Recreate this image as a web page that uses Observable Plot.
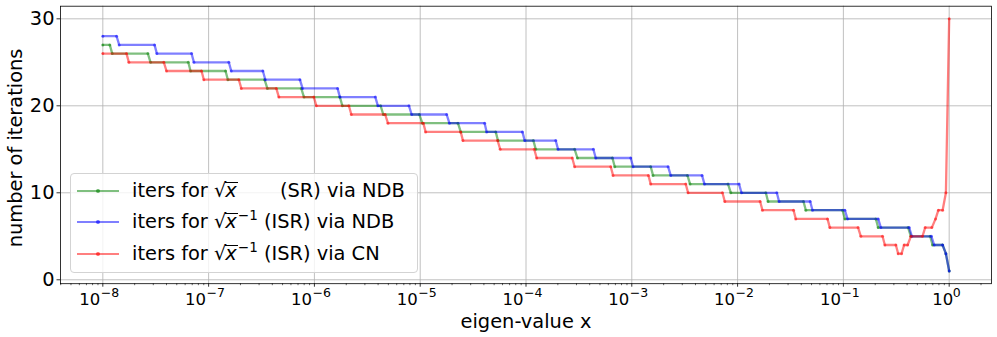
<!DOCTYPE html>
<html><head><meta charset="utf-8">
<script src="https://cdn.jsdelivr.net/npm/d3@7"></script>
<script src="https://cdn.jsdelivr.net/npm/@observablehq/plot@0.6"></script>
<style>
body{margin:0;background:#fff;}
#wrap{position:relative;width:997px;height:337px;font-family:"DejaVu Sans",sans-serif;}
#wrap svg{position:absolute;left:0;top:0;}
#legend{position:absolute;left:70px;top:173px;width:348px;height:100px;border:1px solid #d3d3d3;border-radius:4px;background:rgba(255,255,255,0.8);box-sizing:border-box;}
.sw{position:absolute;left:6px;width:42px;height:2px;}
.dt{position:absolute;left:25px;width:4px;height:4px;border-radius:2px;}
.lbl{position:absolute;left:61px;font-size:19.4px;line-height:19.4px;white-space:pre;color:#000;}
.rad{display:inline-block;border-top:1.3px solid #000;line-height:0.85em;margin-left:-1px;padding-right:1px;}
.sup{font-size:13.5px;position:relative;top:-8px;}
</style>
</head><body>
<div id="wrap"></div>
<script>
// ---- data (x given as log10 exponent of eigen-value, value = number of iterations) ----
// each step: [startExponent, endExponent, iterations]
const srNdbSteps = [
  [-8.000,-7.934,27],[-7.911,-7.574,26],[-7.549,-7.192,25],[-7.171,-6.840,24],
  [-6.818,-6.471,23],[-6.445,-6.124,22],[-6.099,-5.759,21],[-5.736,-5.374,20],
  [-5.349,-5.008,19],[-4.980,-4.643,18],[-4.617,-4.286,17],[-4.265,-3.930,16],
  [-3.908,-3.540,15],[-3.514,-3.183,14],[-3.161,-2.821,13],[-2.799,-2.474,12],
  [-2.449,-2.090,11],[-2.064,-1.733,10],[-1.712,-1.377,9],[-1.355,-1.008,8],
  [-0.986,-0.693,7],[-0.671,-0.388,6],[-0.362,-0.180,5],[-0.157,-0.062,4],
  [-0.031,-0.031,3],[0,0,1]
];
const isrNdbSteps = [
  [-8.000,-7.870,28],[-7.845,-7.511,27],[-7.489,-7.161,26],[-7.139,-6.809,25],
  [-6.786,-6.487,24],[-6.464,-6.137,23],[-6.112,-5.781,22],[-5.759,-5.424,21],
  [-5.400,-5.106,20],[-5.081,-4.750,19],[-4.724,-4.391,18],[-4.372,-4.034,17],
  [-4.012,-3.719,16],[-3.697,-3.363,15],[-3.341,-3.010,14],[-2.988,-2.657,13],
  [-2.632,-2.336,12],[-2.313,-1.986,11],[-1.963,-1.629,10],[-1.608,-1.314,9],
  [-1.292,-0.986,8],[-0.961,-0.671,7],[-0.646,-0.378,6],[-0.353,-0.168,5],
  [-0.142,-0.062,4],[-0.031,-0.031,3],[0,0,1]
];
const isrCnSteps = [
  [-8.000,-7.776,26],[-7.754,-7.423,25],[-7.398,-7.067,24],[-7.045,-6.714,23],
  [-6.691,-6.360,22],[-6.336,-6.005,21],[-5.982,-5.674,20],[-5.651,-5.331,19],
  [-5.305,-4.970,18],[-4.949,-4.617,17],[-4.596,-4.268,16],[-4.244,-3.922,15],
  [-3.899,-3.563,14],[-3.540,-3.199,13],[-3.177,-2.843,12],[-2.821,-2.490,11],
  [-2.468,-2.143,10],[-2.121,-1.787,9],[-1.765,-1.471,8],[-1.450,-1.150,7],
  [-1.128,-0.861,6],[-0.835,-0.630,5],[-0.608,-0.504,4],[-0.482,-0.450,3],
  [-0.426,-0.393,4],[-0.362,-0.252,5],[-0.227,-0.164,6],[-0.129,-0.129,7],
  [-0.102,-0.062,8],[-0.031,-0.031,10],[0,0,30]
];
const seriesNames = ["SR via NDB","ISR via NDB","ISR via CN"];
const seriesColors = ["#008000","#0000ff","#ff0000"];
const xTickExponents = [-8,-7,-6,-5,-4,-3,-2,-1,0];
const yTickValues = [0,10,20,30];
const xLabel = "eigen-value x";
const yLabel = "number of iterations";

function toPoints(steps){
  const pts=[];
  for(const [a,b,l] of steps){
    pts.push({x:10**a,y:l});
    if(b!==a) pts.push({x:10**b,y:l});
  }
  return pts;
}
const allSteps=[srNdbSteps,isrNdbSteps,isrCnSteps];
const negTicks = xTickExponents.filter(e=>e<0).map(e=>10**e);
const zeroTicks = xTickExponents.filter(e=>e===0).map(e=>10**e);
const majorTicks = xTickExponents.map(e=>10**e);
const minorTicks=[];
for(let k=-9;k<=0;k++) for(let m=2;m<=9;m++){const v=m*10**k; if(v>10**-8.4 && v<10**0.4) minorTicks.push(v);}
const supText = d => {const e=Math.round(Math.log10(d)); return e<0 ? "\u2212"+(-e) : String(e);};

const marks=[
  Plot.gridX(majorTicks,{stroke:"#b0b0b0",strokeOpacity:1,strokeWidth:0.8}),
  Plot.gridY(yTickValues,{stroke:"#b0b0b0",strokeOpacity:1,strokeWidth:0.8}),
];
allSteps.forEach((s,i)=>{
  const pts=toPoints(s);
  marks.push(Plot.line(pts,{x:"x",y:"y",stroke:seriesColors[i],strokeOpacity:0.5,strokeWidth:2.3}));
  marks.push(Plot.dot(pts,{x:"x",y:"y",r:1.5,fill:seriesColors[i],fillOpacity:0.5,stroke:null}));
});
const tl = {frameAnchor:"bottom",lineAnchor:"bottom",textAnchor:"start",fill:"#000"};
marks.push(
  Plot.frame({stroke:"#000",strokeWidth:0.8}),
  Plot.axisX({ticks:majorTicks,tickSize:3.5,tickFormat:()=>"",label:null,strokeWidth:0.8}),
  Plot.axisX({ticks:minorTicks,tickSize:2,tickFormat:()=>"",label:null,strokeWidth:0.6}),
  Plot.axisY({ticks:yTickValues,tickSize:3.5,tickFormat:()=>"",label:null,strokeWidth:0.8}),
  Plot.text(negTicks,{...tl,x:d=>d,text:()=>"10",dy:20.8,dx:-23.5,fontSize:16.5}),
  Plot.text(negTicks,{...tl,x:d=>d,text:supText,dy:13.3,dx:-2,fontSize:12.5}),
  Plot.text(zeroTicks,{...tl,x:d=>d,text:()=>"10",dy:20.8,dx:-17,fontSize:16.5}),
  Plot.text(zeroTicks,{...tl,x:d=>d,text:supText,dy:13.3,dx:3.5,fontSize:12.5}),
  Plot.text(yTickValues,{y:d=>d,frameAnchor:"left",text:d=>String(d),textAnchor:"end",lineAnchor:"middle",dx:-6,fontSize:19.4,fill:"#000"}),
  Plot.text([xLabel],{frameAnchor:"bottom",text:d=>d,textAnchor:"middle",lineAnchor:"bottom",dy:44.3,fontSize:19.4,fill:"#000"}),
  Plot.text([yLabel],{frameAnchor:"left",text:d=>d,rotate:-90,textAnchor:"middle",lineAnchor:"middle",dx:-45,dy:3,fontSize:19.4,fill:"#000"})
);

const chart = Plot.plot({
  width:997,height:337,
  marginLeft:60,marginRight:6,marginTop:5.7,marginBottom:53.8,
  x:{type:"log",domain:[10**-8.4,10**0.4]},
  y:{domain:[-0.45,31.45]},
  style:{fontFamily:"DejaVu Sans",background:"#fff",color:"#000",overflow:"visible"},
  marks
});
const wrap=document.getElementById("wrap");
wrap.appendChild(chart);

// legend
const legend=document.createElement("div");
legend.id="legend";
const rows=[
  {c:seriesColors[0],html:'iters for \u221A<span class="rad"><i>x</i></span>',tail:"(SR) via NDB",tailLeft:209},
  {c:seriesColors[1],html:'iters for \u221A<span class="rad"><i>x</i></span><span class="sup">\u22121</span> (ISR) via NDB'},
  {c:seriesColors[2],html:'iters for \u221A<span class="rad"><i>x</i></span><span class="sup">\u22121</span> (ISR) via CN'}
];
const swY=[16.7,48,80], lblTop=[6.9,38.2,70.2];
rows.forEach((r,i)=>{
  const sw=document.createElement("div"); sw.className="sw";
  sw.style.top=(swY[i]-1)+"px"; sw.style.background=r.c; sw.style.opacity=0.5; legend.appendChild(sw);
  const dt=document.createElement("div"); dt.className="dt";
  dt.style.top=(swY[i]-2)+"px"; dt.style.background=r.c; dt.style.opacity=0.6; legend.appendChild(dt);
  const lb=document.createElement("div"); lb.className="lbl"; lb.style.top=lblTop[i]+"px"; lb.innerHTML=r.html; legend.appendChild(lb);
  if(r.tail){const t=document.createElement("div"); t.className="lbl"; t.style.left=r.tailLeft+"px"; t.style.top=lblTop[i]+"px"; t.textContent=r.tail; legend.appendChild(t);}
});
wrap.appendChild(legend);
</script>
</body></html>
